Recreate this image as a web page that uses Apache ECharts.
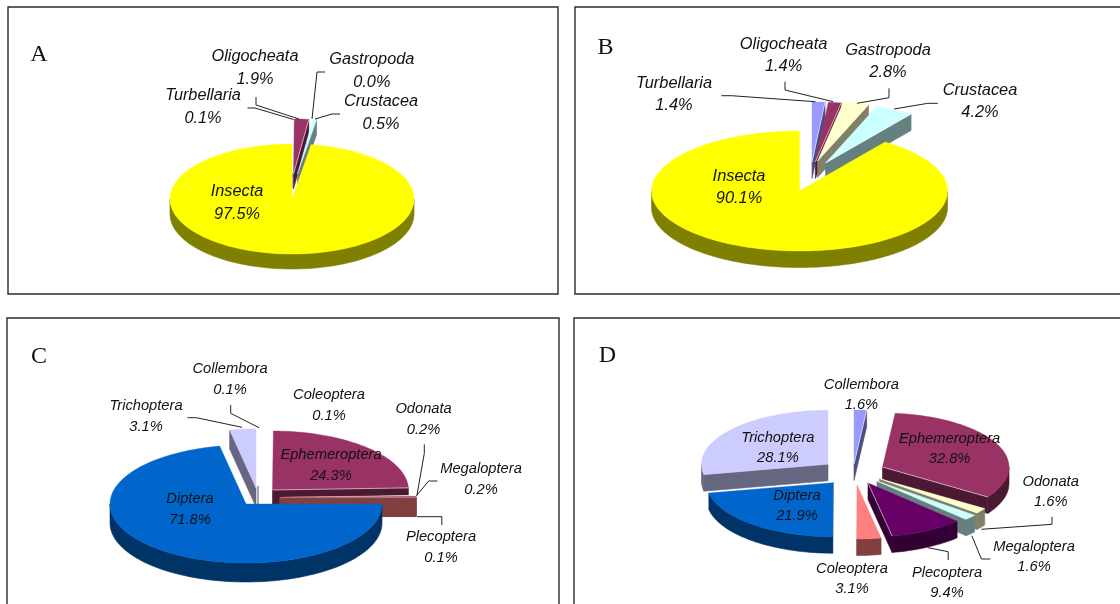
<!DOCTYPE html>
<html>
<head>
<meta charset="utf-8">
<style>html,body{margin:0;padding:0;background:#fff}#chart{width:1120px;height:604px}</style>
<script src="https://cdn.jsdelivr.net/npm/echarts@6/dist/echarts.min.js"></script>
</head>
<body>
<div id="chart"></div>
<script>
// Taxa composition of the benthic community, four exploded 3-D pies.
const taxaA = ['Turbellaria', 'Oligocheata', 'Gastropoda', 'Crustacea', 'Insecta'];
const percentA = [0.1, 1.9, 0.0, 0.5, 97.5];
const taxaB = ['Turbellaria', 'Oligocheata', 'Gastropoda', 'Crustacea', 'Insecta'];
const percentB = [1.4, 1.4, 2.8, 4.2, 90.1];
const taxaC = ['Collembora', 'Ephemeroptera', 'Odonata', 'Megaloptera', 'Plecoptera', 'Coleoptera', 'Diptera', 'Trichoptera'];
const percentC = [0.1, 24.3, 0.2, 0.2, 0.1, 0.1, 71.8, 3.1];
const taxaD = ['Collembora', 'Ephemeroptera', 'Odonata', 'Megaloptera', 'Plecoptera', 'Coleoptera', 'Diptera', 'Trichoptera'];
const percentD = [1.6, 32.8, 1.6, 1.6, 9.4, 3.1, 21.9, 28.1];

// Top and side colour of each taxon.
const swatch = {
  Turbellaria: ['#9999FF', '#4D4D80'], Oligocheata: ['#993366', '#4C1933'],
  Gastropoda: ['#FFFFCC', '#808066'], Crustacea: ['#CCFFFF', '#668080'],
  Insecta: ['#FFFF00', '#808000'], Collembora: ['#9999FF', '#4D4D80'],
  Ephemeroptera: ['#993366', '#4C1933'], Odonata: ['#FFFFCC', '#808066'],
  Megaloptera: ['#CCFFFF', '#668080'], Plecoptera: ['#660066', '#330033'],
  Coleoptera: ['#FF8080', '#804040'], Diptera: ['#0066CC', '#003366'],
  Trichoptera: ['#CCCCFF', '#666680']
};

// Layout of each pie: radii, depth, exploded apex per slice, paint order, label anchors, leaders.
const layouts = [
  { taxa: taxaA, percent: percentA, rx: 122, ry: 55, depth: 15, font: 16.3, gap: 23,
    apex: [[292, 173], [293.5, 174], [296, 174], [297.5, 174], [292, 199]],
    reach: [0, 1, 1, 1, 1], paint: [0, 1, 2, 3, 4],
    text: [[203, 95], [255, 56.7], [371.8, 59.3], [381, 101], [237, 191.5]],
    leaders: [
      [[247.5, 108], [255, 108], [293.5, 119.5]],
      [[256, 97], [256, 105], [299, 119]],
      [[325, 72], [317, 72], [312, 119]],
      [[340, 114], [332, 114], [315, 119]],
      null] },
  { taxa: taxaB, percent: percentB, rx: 148, ry: 60, depth: 16.5, font: 16.4, gap: 22,
    apex: [[812, 162], [815.3, 162], [817.5, 161], [825.5, 163], [799.5, 191]],
    reach: [1, 1, 1, 1, 1], paint: [0, 1, 2, 3, 4],
    text: [[674, 83.3], [783.6, 44], [888, 50.7], [980, 90.7], [739, 176.7]],
    leaders: [
      [[721.4, 95.7], [731.4, 95.7], [815.4, 101.7]],
      [[785, 81.7], [785, 90], [833.2, 101.7]],
      [[889, 88.3], [889, 97.7], [857, 103.3]],
      [[937.8, 103.3], [927.9, 103.3], [894, 109]],
      null] },
  { taxa: taxaC, percent: percentC, rx: 136, ry: 59, depth: 19, font: 14.7, gap: 21,
    apex: [[258, 486], [272.5, 490], [280, 497.5], [280, 497.5], [280, 497.5], [280, 497.5], [246, 504], [256, 488]],
    reach: [0, 1, 1, 1, 1, 1, 1, 1], paint: [1, 2, 3, 4, 5, 6, 7, 0],
    text: [[230, 369.3], [331, 455.3], [423.6, 409], [481, 469], [441, 537], [329, 395], [190, 499], [146, 406]],
    leaders: [
      [[230.7, 405], [230.7, 413.3], [259, 427.7]],
      null,
      [[424.3, 444.3], [424.3, 453.3], [416.8, 496]],
      [[437.5, 481], [428.6, 481], [416.8, 495.3]],
      [[441.8, 525], [441.8, 516.7], [417, 516.7]],
      null, null,
      [[187.5, 417.7], [196.4, 417.7], [242, 427.3]]] },
  { taxa: taxaD, percent: percentD, rx: 126.5, ry: 54, depth: 16.5, font: 14.7, gap: 20,
    apex: [[854, 464], [882.5, 467], [879.5, 478.6], [877, 481], [868, 483], [857, 485], [833, 482.7], [828, 464.3]],
    reach: [1, 1, 1, 1, 1, 1, 1, 1], paint: [1, 2, 3, 4, 5, 6, 7, 0],
    text: [[861.4, 385], [949.6, 439.3], [1050.7, 482], [1034, 547.3], [947, 573.3], [852, 569], [797, 496], [777.9, 438]],
    leaders: [
      null, null,
      [[1052, 516.7], [1052, 524.3], [981.4, 529.3]],
      [[990.4, 559], [981.4, 559], [971.8, 535.7]],
      [[948.2, 560], [948.2, 551.7], [927.9, 547.7]],
      null, null, null] }
];

const RAD = Math.PI / 180;

function rimPoint(cfg, i, angle) {
  const r = cfg.reach[i];
  return [cfg.apex[i][0] + r * cfg.rx * Math.sin(angle * RAD),
          cfg.apex[i][1] - r * cfg.ry * Math.cos(angle * RAD)];
}

function arcPoints(cfg, i, from, to) {
  const pts = [];
  const steps = Math.max(1, Math.ceil((to - from) / 2));
  for (let k = 0; k <= steps; k++) pts.push(rimPoint(cfg, i, from + (to - from) * k / steps));
  return pts;
}

// Extrudes an outline downward into a closed wall polygon.
function wall(cfg, pts, colour, z) {
  const lower = pts.map(p => [p[0], p[1] + cfg.depth]).reverse();
  return { type: 'polygon', z2: z, shape: { points: pts.concat(lower) },
           style: { fill: colour, stroke: colour, lineWidth: 0.6 } };
}

function sliceElements(cfg, i, value, total, before) {
  const out = [];
  const name = cfg.taxa[i];
  const z = cfg.paint[i] * 10 + 1;
  if (value > 0) {
    const from = before / total * 360;
    const to = (before + value) / total * 360;
    const tip = cfg.apex[i];
    const [topColour, sideColour] = swatch[name];
    // Radial faces only show when they turn toward the viewer.
    const first = rimPoint(cfg, i, from);
    const last = rimPoint(cfg, i, to);
    if (Math.sin(from * RAD) < 0) out.push(wall(cfg, [tip, first], sideColour, z));
    if (Math.sin(to * RAD) > 0) out.push(wall(cfg, [tip, last], sideColour, z));
    const arcFrom = Math.max(from, 90);
    const arcTo = Math.min(to, 270);
    if (arcTo > arcFrom) out.push(wall(cfg, arcPoints(cfg, i, arcFrom, arcTo), sideColour, z + 1));
    if (cfg.reach[i] > 0) {
      out.push({ type: 'polygon', z2: z + 2,
                 shape: { points: [tip].concat(arcPoints(cfg, i, from, to)) },
                 style: { fill: topColour, stroke: topColour, lineWidth: 0.4 } });
      // Pale highlight where the lit top meets an exposed cut face.
      if (to - from > 3 && Math.sin(to * RAD) > 0 && to < 180) {
        out.push({ type: 'polyline', z2: z + 3, shape: { points: [tip, last] },
                   style: { stroke: 'rgba(255,255,255,0.55)', lineWidth: 1, fill: null } });
      }
    }
  }
  const at = cfg.text[i];
  const font = { fill: '#111', fontStyle: 'italic', fontFamily: '"Liberation Sans", Arial, sans-serif',
                 fontSize: cfg.font, align: 'center', verticalAlign: 'middle' };
  out.push({ type: 'text', z2: 500, style: Object.assign({ text: name, x: at[0], y: at[1] }, font) });
  out.push({ type: 'text', z2: 500, style: Object.assign({ text: value.toFixed(1) + '%', x: at[0], y: at[1] + cfg.gap }, font) });
  if (cfg.leaders[i]) {
    out.push({ type: 'polyline', z2: 400, shape: { points: cfg.leaders[i] },
               style: { stroke: '#222', lineWidth: 1, fill: null } });
  }
  return out;
}

const pieSeries = layouts.map(cfg => {
  const total = cfg.percent.reduce((a, b) => a + b, 0);
  return {
    type: 'custom',
    coordinateSystem: 'none',
    silent: true,
    animation: false,
    data: cfg.taxa.map((name, i) => ({ name, value: [cfg.percent[i]] })),
    renderItem(params, api) {
      const i = params.dataIndex;
      const before = cfg.percent.slice(0, i).reduce((a, b) => a + b, 0);
      return { type: 'group', children: sliceElements(cfg, i, api.value(0), total, before) };
    }
  };
});

// Panel frames; the right and lower panels run off the page edge.
const frames = [[8, 7, 550, 287], [575, 7, 560, 287], [7, 318, 552, 300], [574, 318, 560, 300]];
const letters = [['A', 39, 55], ['B', 605.5, 48], ['C', 39, 357], ['D', 607.5, 356]];

const chart = echarts.init(document.getElementById('chart'), null, { renderer: 'canvas' });
chart.setOption({
  animation: false,
  backgroundColor: '#fff',
  series: pieSeries,
  graphic: frames.map(f => ({
    type: 'rect', silent: true, z: -1,
    shape: { x: f[0], y: f[1], width: f[2], height: f[3] },
    style: { fill: '#fff', stroke: '#2b2b2b', lineWidth: 1.4 }
  })).concat(letters.map(l => ({
    type: 'text', silent: true, z: 10,
    style: { text: l[0], x: l[1], y: l[2], fill: '#111', align: 'center', verticalAlign: 'middle',
             fontFamily: '"Liberation Serif", "DejaVu Serif", serif', fontSize: 24 }
  })))
});
</script>
</body>
</html>
